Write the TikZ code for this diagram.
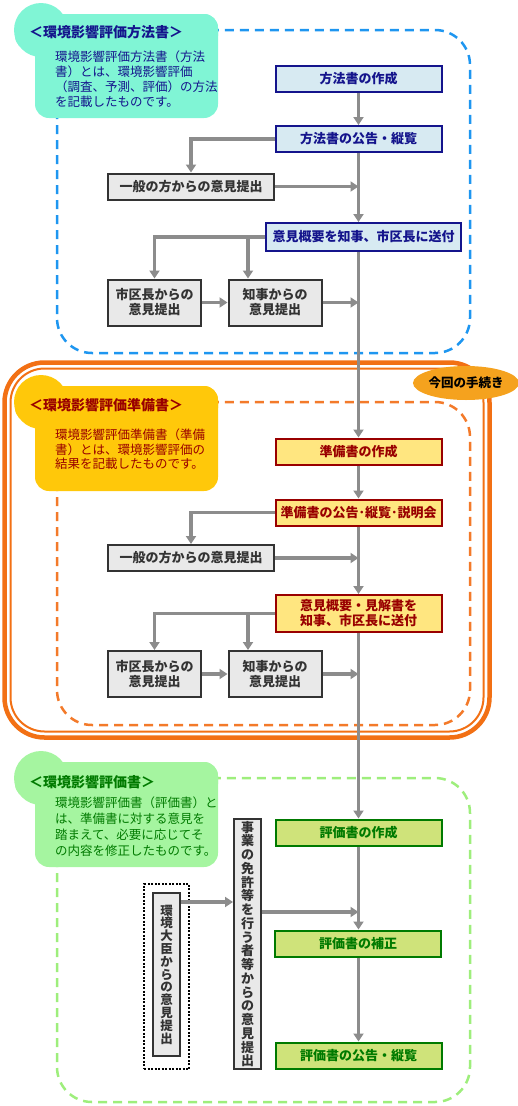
\documentclass[tikz,border=0pt]{standalone}
\usepackage{fontspec}
\setmainfont{Noto Sans CJK JP}
\usetikzlibrary{arrows.meta,shapes.geometric}
\definecolor{BlueLine}{HTML}{1E96F0}
\definecolor{AquaBlob}{HTML}{80F5D5}
\definecolor{Navy}{HTML}{14148C}
\definecolor{BlueFill}{HTML}{D7EAF2}
\definecolor{OrangeLine}{HTML}{F27014}
\definecolor{OrangeDash}{HTML}{F37A2A}
\definecolor{GoldBlob}{HTML}{FFC80A}
\definecolor{DarkRed}{HTML}{990000}
\definecolor{YellowFill}{HTML}{FFE680}
\definecolor{GreenDash}{HTML}{9EEE7C}
\definecolor{GreenBlob}{HTML}{A5F5A0}
\definecolor{GreenText}{HTML}{007A00}
\definecolor{GreenFill}{HTML}{CFE37A}
\definecolor{GrayFill}{HTML}{E9E9E9}
\definecolor{GrayBorder}{HTML}{333333}
\definecolor{ArrowGray}{HTML}{8C8C8C}
\definecolor{BadgeFill}{HTML}{F5A21E}
\begin{document}
\begin{tikzpicture}[x=1pt,y=-1pt,
  boxbase/.style={draw, line width=2pt, inner sep=0pt, align=center,
    font=\fontsize{13}{15}\selectfont\bfseries},
  bluebox/.style={boxbase, fill=BlueFill, draw=Navy, text=Navy, minimum width=166, minimum height=26},
  yelbox/.style={boxbase, fill=YellowFill, draw=DarkRed, text=DarkRed, minimum width=166, minimum height=26},
  grnbox/.style={boxbase, fill=GreenFill, draw=GreenText, text=GreenText, minimum width=166, minimum height=26},
  graybox/.style={boxbase, fill=GrayFill, draw=GrayBorder, text=GrayBorder},
  widegray/.style={graybox, minimum width=166, minimum height=26},
  smallgray/.style={graybox, minimum width=93, minimum height=46},
  secframe/.style={line width=2.5pt, dash pattern=on 9pt off 6pt, rounded corners=35pt},
  headtxt/.style={anchor=west, inner sep=0pt, font=\fontsize{14}{16}\selectfont\bfseries},
  bodytxt/.style={anchor=west, inner sep=0pt, align=left},
  conn/.style={draw=ArrowGray, line width=3.2pt, -{Triangle[length=8pt,width=10pt]}},
  plainconn/.style={draw=ArrowGray, line width=3.2pt}
]
\useasboundingbox (0,0) rectangle (517,1106);
\coordinate (S) at (358.5,0);

% ---------- section frames ----------
\draw[BlueLine, secframe] (57,30) rectangle (470,353);
\draw[OrangeLine, line width=4.5pt, rounded corners=40pt] (4.5,362.5) rectangle (489.5,737.5);
\draw[OrangeLine, line width=2pt, rounded corners=34pt] (10.5,368.5) rectangle (483.5,731.5);
\draw[OrangeDash, secframe] (57,402) rectangle (470,725);
\draw[GreenDash, secframe] (57,778) rectangle (470,1102);

% ---------- title blobs ----------
\fill[AquaBlob] (41,30) circle[radius=27pt];
\fill[AquaBlob, rounded corners=14pt] (15,14) rectangle (218,50);
\fill[AquaBlob, rounded corners=14pt] (35,14) rectangle (218,118);
\node[headtxt, text=Navy] (h1) at (29,32) {＜環境影響評価方法書＞};
\node[bodytxt, text=Navy, font=\fontsize{12.5}{15}\selectfont] (t1) at (55,79.5)
  {環境影響評価方法書（方法\\書）とは、環境影響評価\\（調査、予測、評価）の方法\\を記載したものです。};

\fill[GoldBlob] (41,402) circle[radius=27pt];
\fill[GoldBlob, rounded corners=14pt] (15,386) rectangle (218,422);
\fill[GoldBlob, rounded corners=14pt] (35,386) rectangle (218,491);
\node[headtxt, text=DarkRed] (h2) at (29,405) {＜環境影響評価準備書＞};
\node[bodytxt, text=DarkRed, font=\fontsize{12.5}{14.5}\selectfont] (t2) at (55,449.5)
  {環境影響評価準備書（準備\\書）とは、環境影響評価の\\結果を記載したものです。};

\fill[GreenBlob] (41,778) circle[radius=27pt];
\fill[GreenBlob, rounded corners=14pt] (15,762) rectangle (218,798);
\fill[GreenBlob, rounded corners=14pt] (35,762) rectangle (218,867);
\node[headtxt, text=GreenText] (h3) at (29,782) {＜環境影響評価書＞};
\node[bodytxt, text=GreenText, font=\fontsize{12.5}{16}\selectfont] (t3) at (55,827)
  {環境影響評価書（評価書）と\\は、準備書に対する意見を\\踏まえて、必要に応じてそ\\の内容を修正したものです。};

% ---------- badge ----------
\node[ellipse, fill=BadgeFill, minimum width=94, minimum height=34, inner sep=0pt,
  font=\fontsize{12.5}{14}\selectfont\bfseries] (badge) at (466,383) {今回の手続き};

% ---------- top section boxes ----------
\node[bluebox] (m1) at (358.5,79) {方法書の作成};
\node[bluebox] (m2) at (358.5,139) {方法書の公告・縦覧};
\node[widegray] (g1) at (191,186.5) {一般の方からの意見提出};
\node[bluebox, minimum width=195, minimum height=28] (m3) at (363.5,237) {意見概要を知事、市区長に送付};
\node[smallgray] (c1) at (154.5,302.5) {市区長からの\\意見提出};
\node[smallgray] (k1) at (275,302.5) {知事からの\\意見提出};
\coordinate (b1) at (248,237);

% ---------- middle section boxes ----------
\node[yelbox] (p1) at (358.5,451.5) {準備書の作成};
\node[yelbox] (p2) at (358.5,512.5) {準備書の公告･縦覧･説明会};
\node[widegray] (g2) at (191,558) {一般の方からの意見提出};
\node[yelbox, minimum height=37] (p3) at (358.5,613.5) {意見概要・見解書を\\知事、市区長に送付};
\node[smallgray] (c2) at (154.5,674) {市区長からの\\意見提出};
\node[smallgray] (k2) at (275,674) {知事からの\\意見提出};
\coordinate (b2) at (248,613);

% ---------- bottom section boxes ----------
\node[grnbox] (e1) at (358.5,832.5) {評価書の作成};
\node[grnbox] (e2) at (358,943.5) {評価書の補正};
\node[grnbox] (e3) at (358.5,1055.5) {評価書の公告・縦覧};
\node[graybox, minimum width=27, minimum height=250, font=\fontsize{13}{13.75}\selectfont\bfseries] (v1) at (247.5,944)
  {事\\業\\の\\免\\許\\等\\を\\行\\う\\者\\等\\か\\ら\\の\\意\\見\\提\\出};
\node[draw=black, line width=2pt, dash pattern=on 2pt off 1.5pt, minimum width=45, minimum height=185, inner sep=0pt] (dbox) at (166.5,976.5) {};
\node[graybox, minimum width=27, minimum height=163, font=\fontsize{12.5}{12.8}\selectfont\bfseries] (v2) at (166.5,974.5)
  {環\\境\\大\\臣\\か\\ら\\の\\意\\見\\提\\出};
\coordinate (y1) at (181,902);
\coordinate (y2) at (262,912);

% ---------- connectors ----------
\draw[conn] (m1.south) -- (m2.north);
\draw[conn] (m2.west) -| (g1.north);
\draw[conn] (g1.east) -- (g1.east -| S);
\draw[conn] (m2.south) -- (m3.north -| S);
\draw[conn] (m3.west) -| (c1.north);
\draw[conn] (b1) -- (b1 |- k1.north);
\draw[conn] (c1.east) -- (k1.west);
\draw[conn] (k1.east) -- (k1.east -| S);
\draw[conn] (m3.south -| S) -- (p1.north);

\draw[conn] (p1.south) -- (p2.north);
\draw[conn] (p2.west) -| (g2.north);
\draw[conn] (g2.east) -- (g2.east -| S);
\draw[conn] (p2.south) -- (p3.north);
\draw[conn] (p3.west) -| (c2.north);
\draw[conn] (b2) -- (b2 |- k2.north);
\draw[conn] (c2.east) -- (k2.west);
\draw[conn] (k2.east) -- (k2.east -| S);
\draw[conn] (p3.south) -- (e1.north);

\draw[conn] (e1.south) -- (e1.south |- e2.north);
\draw[conn] (e1.south |- e2.south) -- (e3.north);
\draw[conn] (y1) -- (y1 -| v1.west);
\draw[conn] (y2) -- (y2 -| S);
\end{tikzpicture}
\end{document}
